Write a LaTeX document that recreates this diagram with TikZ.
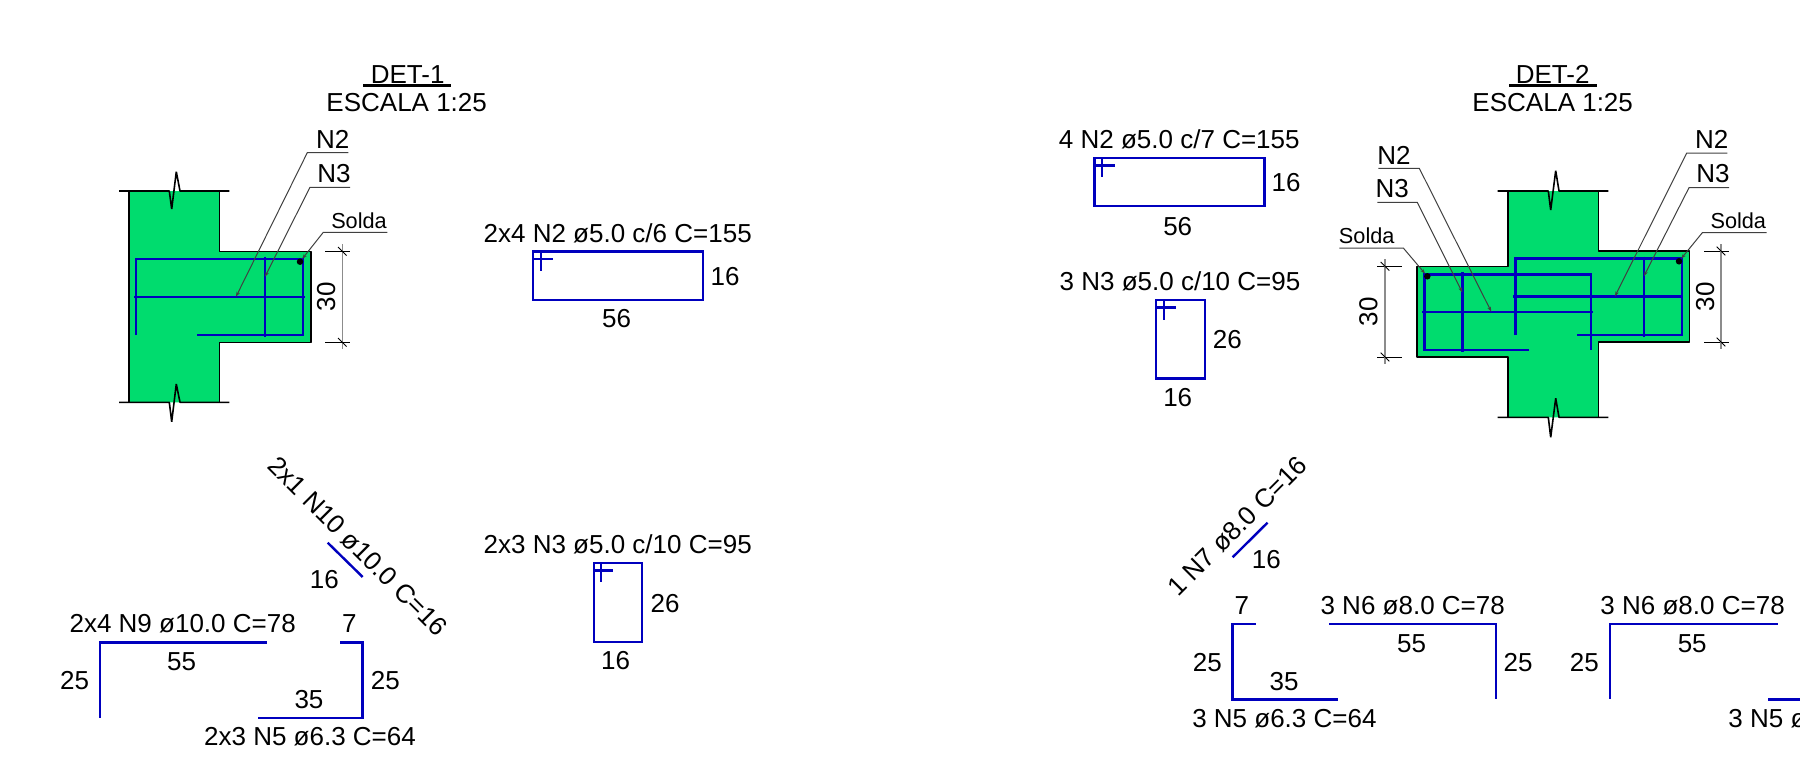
\documentclass[tikz,border=0pt]{standalone}
\usepackage{fontspec}
\setmainfont{Liberation Sans}
\usetikzlibrary{arrows.meta}
\definecolor{concgreen}{HTML}{00DC6E}
\definecolor{barblue}{HTML}{0000BE}
\definecolor{leadgray}{HTML}{404040}
\definecolor{dimgray}{HTML}{8C8C8C}
\tikzset{
  lab/.style={inner sep=0pt,outer sep=0pt,text height=18.6pt,text depth=0pt,font=\fontsize{26}{26}\selectfont,text=black},
  sol/.style={inner sep=0pt,outer sep=0pt,text height=15.6pt,text depth=0pt,font=\fontsize{21.7}{22}\selectfont,text=black},
  conc/.style={line width=1.6pt,black,line join=bevel},
  bar/.style={line width=2.4pt,barblue,line join=miter},
  leader/.style={line width=1pt,leadgray,-{Stealth[length=5pt,width=3.5pt]}},
  dimline/.style={line width=1.4pt,dimgray},
  tick/.style={line width=1pt,black},
  weld/.style={circle,fill=black,inner sep=0pt,minimum size=6.5pt},
  heading/.style={line width=2.4pt,black}
}
\newcommand{\breakln}[7]{\draw[conc] (#2,#1) -- (#4-2.4,#1) -- (#4,#5) -- (#4+#6,#7) -- (#4+8.3,#1) -- (#3,#1);}
\begin{document}
\begin{tikzpicture}[x=1pt,y=-1pt]
\useasboundingbox (0,0) rectangle (1800,764);
\clip (0,0) rectangle (1800,764);

%% ---------- titles
\node[lab] (t1) at (407.7,74) {DET-1};
\draw[heading] (363.3,85.3) -- (451,85.3);
\node[lab] (s1) at (406.7,101.7) {ESCALA 1:25};
\node[lab] (t2) at (1552.7,74) {DET-2};
\draw[heading] (1509.3,85.3) -- (1596.7,85.3);
\node[lab] (s2) at (1552.7,101.7) {ESCALA 1:25};

%% ---------- DET-1 section
\fill[concgreen] (129,191) -- (219.3,191) -- (219.3,251.3) -- (310.7,251.3) -- (310.7,342.3) -- (219.3,342.3) -- (219.3,402.3) -- (129,402.3) -- cycle;
\draw[conc] (129,191) -- (129,402.3);
\draw[conc] (219.3,191) -- (219.3,251.3) -- (310.7,251.3) -- (310.7,342.3) -- (219.3,342.3) -- (219.3,402.3);
\breakln{191}{119}{229.3}{171.7}{209}{4.6}{171.7}
\breakln{402.3}{119}{229.3}{171.7}{421.7}{4.6}{384}
\draw[bar] (136,335) -- (136,258.7) -- (302.7,258.7) -- (302.7,334.7) -- (197.3,334.7);
\draw[bar] (134,296.7) -- (305.3,296.7);
\draw[bar] (265,256.7) -- (265,336.7);
\node[weld] (w1) at (300,261.7) {};
\coordinate (a1) at (236,296.7);
\coordinate (a2) at (265,276.7);
\node[lab] (n2a) at (332.7,139) {N2};
\node[lab] (n3a) at (334,172.7) {N3};
\node[sol] (soa) at (359,220.7) {Solda};
\draw[leader] (348.3,152.7) -- (307.3,152.7) -- (a1);
\draw[leader] (350,187.3) -- (310,187.3) -- (a2);
\draw[leader] (387.3,232.3) -- (323.3,232.3) -- (w1);
\draw[tick] (325,251.3) -- (350,251.3);
\draw[tick] (325,342.3) -- (350,342.3);
\draw[dimline] (342.3,244) -- (342.3,349.3);
\draw[tick] (338,247) -- (346.6,255.6);
\draw[tick] (338,338) -- (346.6,346.6);
\node[lab,rotate=90] (d1) at (325.7,296.7) {30};

%% ---------- DET-2 section
\fill[concgreen] (1507.7,191) -- (1598.3,191) -- (1598.3,251) -- (1689.3,251) -- (1689.3,342) -- (1598.3,342) -- (1598.3,417.3) -- (1507.7,417.3) -- (1507.7,357) -- (1417,357) -- (1417,266.3) -- (1507.7,266.3) -- cycle;
\draw[conc] (1507.7,191) -- (1507.7,266.3) -- (1417,266.3) -- (1417,357) -- (1507.7,357) -- (1507.7,417.3);
\draw[conc] (1598.3,191) -- (1598.3,251) -- (1689.3,251) -- (1689.3,342) -- (1598.3,342) -- (1598.3,417.3);
\breakln{191}{1497.7}{1608.3}{1550.7}{210}{5}{170.7}
\breakln{417.3}{1497.7}{1608.3}{1550.7}{437.3}{5}{398.3}
\draw[bar] (1515.3,335) -- (1515.3,258.3) -- (1681.7,258.3) -- (1681.7,334.7) -- (1576.7,334.7);
\draw[bar] (1513,296.3) -- (1683.3,296.3);
\draw[bar] (1643.7,256.7) -- (1643.7,336.7);
\draw[bar] (1529.3,349.7) -- (1424.3,349.7) -- (1424.3,274.3) -- (1591,274.3) -- (1591,350);
\draw[bar] (1422.3,311.7) -- (1593.3,311.7);
\draw[bar] (1462.3,272) -- (1462.3,351.7);
\node[weld] (w2) at (1679,261.3) {};
\node[weld] (w3) at (1427.3,276.3) {};
\coordinate (b1) at (1615,296.3);
\coordinate (b2) at (1644,276);
\coordinate (b3) at (1491.3,311.7);
\coordinate (b4) at (1462.3,292.3);
\node[lab] (n2b) at (1711.7,139) {N2};
\node[lab] (n3b) at (1713,172.7) {N3};
\node[sol] (sob) at (1738.3,220.7) {Solda};
\node[lab] (n2c) at (1394,155.3) {N2};
\node[lab] (n3c) at (1392.3,188.5) {N3};
\node[sol] (soc) at (1366.7,235.2) {Solda};
\draw[leader] (1727.3,153) -- (1686.7,153) -- (b1);
\draw[leader] (1729,187.7) -- (1689,187.7) -- (b2);
\draw[leader] (1766.7,232.7) -- (1702.3,232.7) -- (w2);
\draw[leader] (1378.3,168.3) -- (1419.3,168.3) -- (b3);
\draw[leader] (1377.3,202.3) -- (1417.3,202.3) -- (b4);
\draw[leader] (1339.3,248) -- (1403.3,248) -- (w3);
\draw[tick] (1704,251) -- (1729,251);
\draw[tick] (1704,342) -- (1729,342);
\draw[dimline] (1721,244) -- (1721,349.3);
\draw[tick] (1716.7,246.7) -- (1725.3,255.3);
\draw[tick] (1716.7,337.7) -- (1725.3,346.3);
\node[lab,rotate=90] (d2) at (1704.7,296.7) {30};
\draw[tick] (1377.3,266.3) -- (1402,266.3);
\draw[tick] (1377.3,357) -- (1402,357);
\draw[dimline] (1385,259.3) -- (1385,364.3);
\draw[tick] (1380.7,262) -- (1389.3,270.6);
\draw[tick] (1380.7,352.7) -- (1389.3,361.3);
\node[lab,rotate=90] (d3) at (1368,311.7) {30};

%% ---------- stirrups, DET-1
\node[lab] (e1) at (617.7,232.8) {2x4 N2 ø5.0 c/6 C=155};
\draw[bar] (533,251.3) rectangle (703,299.7);
\draw[bar] (533,259) -- (553.3,259);
\draw[bar] (540.7,251.3) -- (540.7,271);
\node[lab] (e1h) at (725,276) {16};
\node[lab] (e1w) at (616.7,318.3) {56};

\node[lab] (e2) at (617.7,544) {2x3 N3 ø5.0 c/10 C=95};
\draw[bar] (593.7,562.8) rectangle (642.2,641.8);
\draw[bar] (593.7,570.5) -- (613.3,570.5);
\draw[bar] (601,562.8) -- (601,582.2);
\node[lab] (e2h) at (665,602.7) {26};
\node[lab] (e2w) at (615.7,660) {16};

%% ---------- stirrups, DET-2
\node[lab] (e3) at (1179.3,139.3) {4 N2 ø5.0 c/7 C=155};
\draw[bar] (1094.3,157.7) rectangle (1264.3,206);
\draw[bar] (1094.3,165.3) -- (1114.7,165.3);
\draw[bar] (1102,157.7) -- (1102,177.3);
\node[lab] (e3h) at (1286,181.7) {16};
\node[lab] (e3w) at (1177.7,226) {56};

\node[lab] (e4) at (1180,280.7) {3 N3 ø5.0 c/10 C=95};
\draw[bar] (1156,299.8) rectangle (1205,378.5);
\draw[bar] (1156,307.5) -- (1176,307.5);
\draw[bar] (1163.7,299.8) -- (1163.7,319.5);
\node[lab] (e4h) at (1227.3,339.3) {26};
\node[lab] (e4w) at (1177.7,396.7) {16};

%% ---------- straight and bent bars, DET-1
\begin{scope}[yshift=-1pt]
\node[lab,rotate=-45] (f1) at (358,545) {2x1 N10 ø10.0 C=16};
\draw[bar] (327.7,541.7) -- (362.7,576);
\node[lab] (f1w) at (324.3,577.7) {16};
\node[lab] (f2) at (182.7,622.3) {2x4 N9 ø10.0 C=78};
\draw[bar] (100,716.7) -- (100,641.3) -- (266.7,641.3);
\node[lab] (f2w) at (181.7,660) {55};
\node[lab] (f2h) at (74.7,679) {25};
\node[lab] (f3t) at (349.3,622.3) {7};
\draw[bar] (340,641.3) -- (362.3,641.3) -- (362.3,716.7) -- (257.7,716.7);
\node[lab] (f3h) at (385.3,679) {25};
\node[lab] (f3w) at (309,698.3) {35};
\node[lab] (f3) at (310,734.7) {2x3 N5 ø6.3 C=64};
\end{scope}

%% ---------- straight and bent bars, DET-2
\node[lab,rotate=45] (g1) at (1236.8,526) {1 N7 ø8.0 C=16};
\draw[bar] (1232.6,557.3) -- (1267.5,522.7);
\node[lab] (g1w) at (1266.3,559) {16};
\begin{scope}[yshift=-1pt]
\node[lab] (g2t) at (1241.9,604.3) {7};
\draw[bar] (1255.7,622.7) -- (1232.6,622.7) -- (1232.6,698.3) -- (1337.8,698.3);
\node[lab] (g2h) at (1207.3,661) {25};
\node[lab] (g2w) at (1284,680) {35};
\node[lab] (g2) at (1284.4,716.7) {3 N5 ø6.3 C=64};
\node[lab] (g3) at (1412.7,604) {3 N6 ø8.0 C=78};
\draw[bar] (1329.4,622.7) -- (1496,622.7) -- (1496,698.3);
\node[lab] (g3w) at (1411.5,641.7) {55};
\node[lab] (g3h) at (1518,661) {25};
\node[lab] (g4) at (1692.6,604) {3 N6 ø8.0 C=78};
\draw[bar] (1777.6,622.7) -- (1609.7,622.7) -- (1609.7,698.3);
\node[lab] (g4w) at (1692.2,641.7) {55};
\node[lab] (g4h) at (1584.4,661) {25};
\draw[bar] (1768.4,698.3) -- (1810,698.3);
\node[lab,anchor=west] (g5) at (1728.4,716.7) {3 N5 ø6.3 C=64};
\end{scope}
\end{tikzpicture}
\end{document}
